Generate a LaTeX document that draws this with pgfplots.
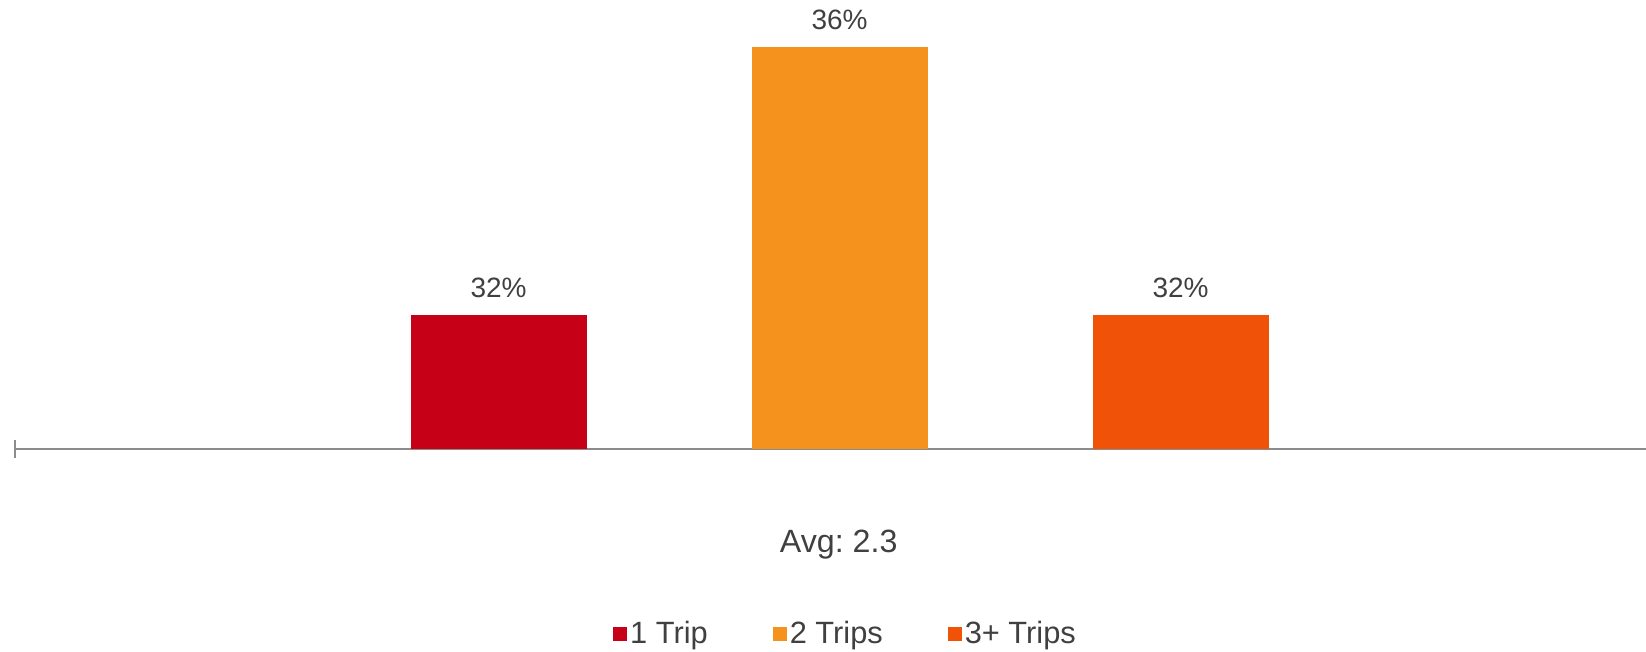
\documentclass[border=0pt]{standalone}
\usepackage{pgfplots}
\pgfplotsset{compat=1.18}
\usepackage{fontspec}
\setmainfont{Liberation Sans}
\frenchspacing
\definecolor{c1}{HTML}{C50017}
\definecolor{c2}{HTML}{F5921E}
\definecolor{c3}{HTML}{F05307}
\definecolor{txt}{HTML}{404040}
\definecolor{axl}{HTML}{8C8C8C}
\begin{document}
\begin{tikzpicture}
\path[use as bounding box] (0,0) rectangle (823pt,326pt);
\begin{axis}[
  at={(7.5pt,101.5pt)}, anchor=south west,
  scale only axis, width=815.5pt, height=224.5pt,
  xmin=-0.418, xmax=4.365, ymin=30, ymax=36.7,
  axis x line*=bottom, axis y line=none,
  xtick={-0.418}, xticklabels={}, ytick=\empty,
  major tick length=9pt, xtick align=center,
  every tick/.style={axl, line width=0.8pt, yshift=4.5pt},
  x axis line style={axl, line width=0.8pt},
  ybar, bar width=88pt, bar shift=0pt, clip=false,
  every axis plot/.append style={draw=none},
  nodes near coords={\pgfmathprintnumber[assume math mode=true]{\pgfplotspointmeta}\%},
  every node near coord/.append style={anchor=south, inner sep=0pt, yshift=8.5pt, font=\fontsize{14}{16}\selectfont, text=txt},
  legend columns=3,
  legend style={at={(axis description cs:0.5095,-0.412)}, anchor=center, draw=none, fill=none,
    font=\fontsize{15.4}{18}\selectfont, text=txt,
    /tikz/every even column/.append style={column sep=31pt},
    nodes={inner xsep=1.5pt, inner ysep=0pt}},
  legend image code/.code={\fill[#1] (0pt,-3.5pt) rectangle (7pt,3.5pt);},
]
\addplot[fill=c1] coordinates {(1,32)};
\addplot[fill=c2] coordinates {(2,36)};
\addplot[fill=c3] coordinates {(3,32)};
\legend{1 Trip, 2 Trips, 3+ Trips}
\node[text=txt, font=\fontsize{16.1}{19}\selectfont] at (axis description cs:0.505,-0.214) {Avg: 2.3};
\end{axis}
\end{tikzpicture}
\end{document}
